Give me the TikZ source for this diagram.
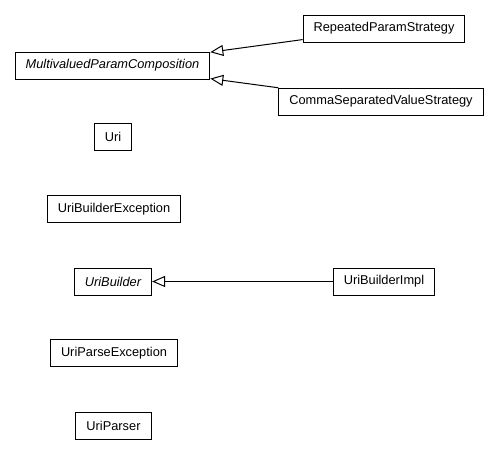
\documentclass[tikz,border=0pt]{standalone}
\usepackage{fontspec}
\setmainfont{Liberation Sans}
\usetikzlibrary{arrows.meta}
\definecolor{cline}{HTML}{000000}
\tikzset{
  every picture/.style={line width=1pt},
  cls/.style={draw=cline, fill=white, inner xsep=10.5pt, inner ysep=0pt, minimum height=27pt, font=\fontsize{12.8}{15}\selectfont},
  abstr/.style={cls, font=\fontsize{12.8}{15}\selectfont\itshape},
  inherit/.style={-{Triangle[open, length=13pt, width=11pt]}, draw=cline, line width=1pt},
}
\begin{document}
\begin{tikzpicture}[x=1pt, y=-1pt]
  \useasboundingbox (0,0) rectangle (504,455);
  % ---- parameter composition
  \node[abstr] (mvpc) at (112.5,65.5) {MultivaluedParamComposition};
  \node[cls] (rps) at (384,28.5) {RepeatedParamStrategy};
  \node[cls] (csvs) at (381,101.5) {CommaSeparatedValueStrategy};
  \draw[inherit] (rps) -- (mvpc);
  \draw[inherit] (csvs) -- (mvpc);
  % ---- uri classes
  \node[cls] (uri) at (113,137) {Uri};
  \node[cls] (ube) at (114,209) {UriBuilderException};
  \node[abstr] (ub) at (113,281.5) {UriBuilder};
  \node[cls] (ubi) at (384,281.5) {UriBuilderImpl};
  \draw[inherit] (ubi) -- (ub);
  \node[cls] (upe) at (114,353) {UriParseException};
  \node[cls] (up) at (113.5,425.5) {UriParser};
\end{tikzpicture}
\end{document}
